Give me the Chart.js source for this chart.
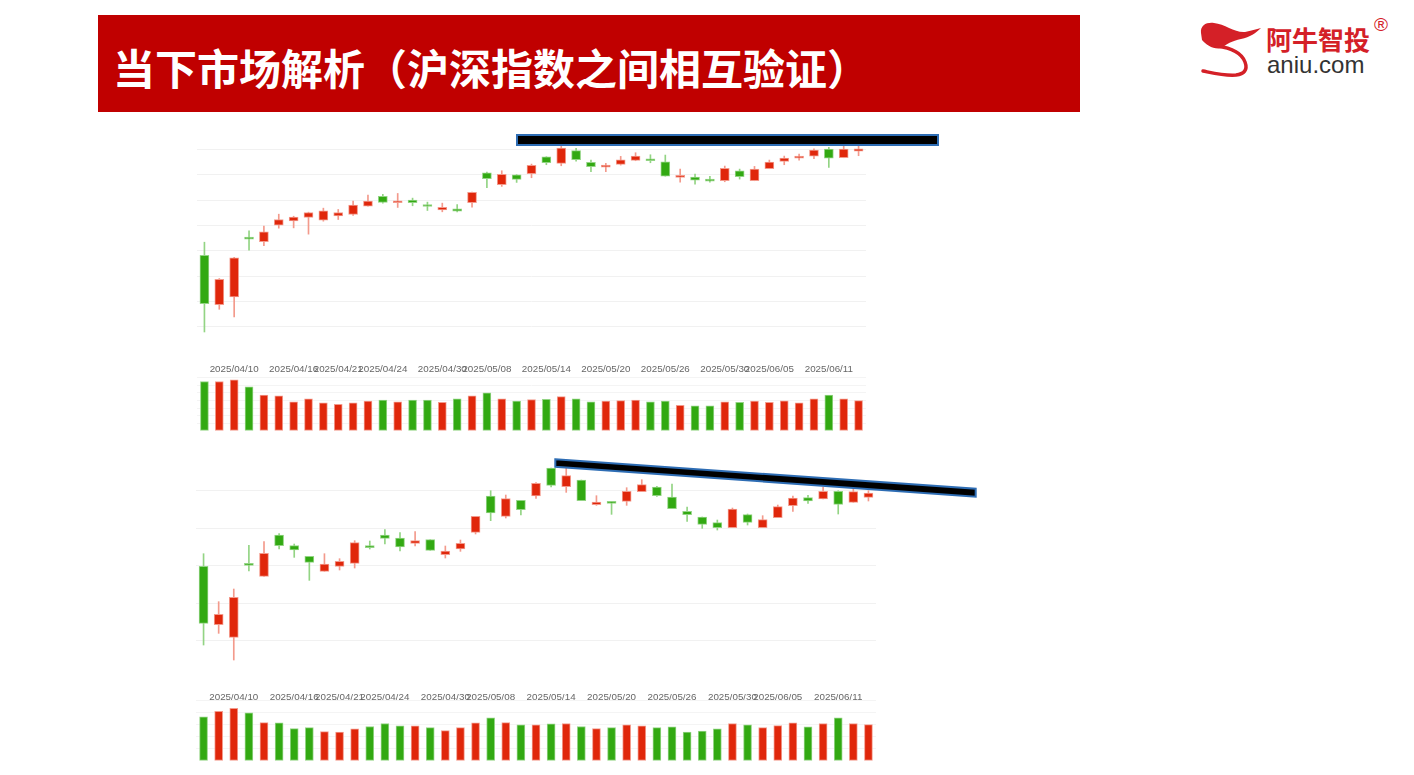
<!DOCTYPE html>
<html><head><meta charset="utf-8">
<script src="https://cdn.jsdelivr.net/npm/chart.js@4.4.1/dist/chart.umd.min.js"></script>
<style>
html,body{margin:0;padding:0;background:#fff;}
#page{position:relative;width:1414px;height:775px;overflow:hidden;background:#fff;}
.abs{position:absolute;}
#banner{left:98px;top:15px;width:982px;height:97px;background:#c00000;}
#title{left:113px;top:38px;color:#fff;font-family:"Noto Sans CJK SC";font-weight:700;font-size:42px;line-height:58px;white-space:nowrap;}
#logoCn{left:1266px;top:22px;color:#d42027;font-family:"Noto Sans CJK SC";font-weight:700;font-size:26px;line-height:34px;white-space:nowrap;}
#logoEn{left:1267px;top:50px;color:#333;font-family:"Liberation Sans";font-size:24px;line-height:30px;white-space:nowrap;}
#logoR{left:1374px;top:14px;color:#d42027;font-family:"Liberation Sans";font-size:19px;line-height:22px;}
canvas{position:absolute;}
svg{position:absolute;left:0;top:0;}
</style></head>
<body><div id="page">
<div id="banner" class="abs"></div>
<div id="title" class="abs">当下市场解析（沪深指数之间相互验证）</div>
<div id="logoCn" class="abs">阿牛智投</div>
<div id="logoEn" class="abs">aniu.com</div>
<div id="logoR" class="abs">®</div>
<canvas id="shK" width="669" height="228" style="left:197px;top:124px;"></canvas>
<canvas id="shV" width="669" height="71" style="left:197px;top:360px;"></canvas>
<canvas id="szK" width="680" height="225" style="left:196px;top:453px;"></canvas>
<canvas id="szV" width="680" height="67" style="left:196px;top:694px;"></canvas>
<svg width="1414" height="775">
  <path d="M1201,33 C1200,25 1207,22 1214,23 C1225,24 1235,33 1245,32 C1251,31 1256,29 1261,28 C1256,33 1250,37 1241,39 C1232,41 1226,44 1222,48 C1214,50 1206,45 1202,40 Z" fill="#d42027"/>
  <path d="M1217,46 C1232,48 1242,54 1245,62 C1248,70 1244,74 1236,75 C1225,76 1213,73 1203,71" fill="none" stroke="#d42027" stroke-width="3.5" stroke-linecap="round"/>
  <rect x="517" y="135" width="421" height="10" fill="#000" stroke="#2e6db4" stroke-width="2"/>
  <polygon points="555.3,459.3 975.7,488.7 975.7,496.7 555.3,466.7" fill="#000" stroke="#2e6db4" stroke-width="2"/>
</svg>
</div>
<script>
const dates = ['2025/04/07','2025/04/08','2025/04/09','2025/04/10','2025/04/11','2025/04/14','2025/04/15','2025/04/16','2025/04/17','2025/04/18','2025/04/21','2025/04/22','2025/04/23','2025/04/24','2025/04/25','2025/04/28','2025/04/29','2025/04/30','2025/05/06','2025/05/07','2025/05/08','2025/05/09','2025/05/12','2025/05/13','2025/05/14','2025/05/15','2025/05/16','2025/05/19','2025/05/20','2025/05/21','2025/05/22','2025/05/23','2025/05/26','2025/05/27','2025/05/28','2025/05/29','2025/05/30','2025/06/03','2025/06/04','2025/06/05','2025/06/06','2025/06/09','2025/06/10','2025/06/11','2025/06/12'];
const tickLabels = ['2025/04/10','2025/04/16','2025/04/21','2025/04/24','2025/04/30','2025/05/08','2025/05/14','2025/05/20','2025/05/26','2025/05/30','2025/06/05','2025/06/11'];

// 上证指数 (top)
const shOpen  = [3191.0,3093.6,3108.7,3226.0,3218.0,3250.3,3258.9,3265.5,3260.2,3268.8,3271.4,3287.9,3307.0,3294.5,3299.8,3289.9,3280.6,3282.6,3294.5,3353.8,3330.1,3349.8,3351.8,3385.4,3372.2,3397.3,3374.2,3365.0,3370.2,3378.1,3380.8,3375.5,3344.6,3345.2,3341.3,3338.0,3357.7,3338.0,3361.7,3376.2,3382.8,3386.7,3400.5,3383.4,3396.6];
const shHigh  = [3216.7,3145.0,3187.0,3239.0,3248.4,3272.0,3268.0,3276.0,3283.9,3281.3,3297.8,3309.6,3311.0,3312.9,3303.7,3295.8,3293.8,3291.0,3315.5,3355.1,3357.7,3350.0,3370.9,3385.4,3406.5,3401.9,3378.8,3372.2,3386.1,3393.3,3389.3,3388.7,3361.0,3351.1,3346.5,3367.0,3361.0,3366.3,3378.8,3386.7,3390.7,3401.2,3403.8,3407.1,3407.1];
const shLow   = [3039.5,3084.3,3069.2,3200.9,3210.0,3244.4,3245.0,3232.6,3258.2,3261.5,3269.4,3287.9,3293.8,3285.3,3288.6,3279.3,3276.7,3276.7,3285.9,3324.1,3326.8,3334.7,3343.9,3369.6,3367.6,3376.8,3355.7,3355.7,3368.9,3377.5,3373.5,3347.0,3335.3,3331.4,3335.3,3336.0,3341.3,3338.0,3361.7,3369.6,3378.8,3381.4,3364.3,3383.4,3387.4];
const shClose = [3095.5,3143.6,3185.8,3222.7,3237.2,3261.5,3266.2,3275.4,3278.7,3275.4,3289.9,3297.8,3295.1,3297.1,3294.5,3287.2,3285.3,3278.0,3314.9,3341.9,3350.5,3340.6,3368.3,3373.5,3402.5,3379.5,3365.6,3366.9,3379.5,3386.7,3377.5,3347.2,3346.5,3339.3,3337.3,3362.3,3345.9,3361.0,3374.9,3382.8,3384.7,3398.6,3382.8,3400.5,3401.2];
const shVolume = [651,651,673,581,471,462,383,422,370,352,370,392,405,383,405,405,378,422,462,502,422,392,414,418,453,422,383,392,400,405,383,392,339,330,330,383,378,392,378,396,370,422,471,422,400];

// 深证成指 (bottom)
const szOpen  = [9744.3,9355.5,9271.0,9755.4,9677.7,9953.2,9882.1,9811.0,9711.0,9744.3,9764.3,9882.1,9953.2,9933.2,9897.7,9922.1,9822.1,9859.9,9971.0,10213.2,10077.7,10184.3,10213.2,10399.8,10275.4,10319.8,10155.4,10168.7,10177.7,10242.1,10273.2,10206.5,10111.0,10073.2,10035.4,10002.1,10088.7,10002.1,10068.7,10148.7,10202.1,10193.2,10244.3,10171.0,10204.3];
const szHigh  = [9828.7,9508.8,9593.2,9884.3,9908.7,9962.0,9893.2,9811.0,9828.7,9795.4,9915.4,9913.2,9988.7,9968.7,9975.4,9922.1,9880.0,9919.9,10078.0,10248.7,10219.9,10184.3,10302.0,10400.0,10399.8,10319.8,10215.4,10177.6,10268.7,10322.0,10277.6,10293.2,10139.9,10073.2,10053.2,10133.2,10093.2,10082.1,10153.2,10213.2,10217.6,10270.9,10248.7,10266.5,10248.7];
const szLow   = [9219.9,9297.7,9119.9,9713.2,9677.7,9859.9,9804.3,9651.0,9711.0,9719.9,9733.2,9859.9,9893.2,9846.5,9879.9,9851.0,9799.9,9844.3,9959.9,10048.7,10066.6,10086.5,10197.6,10273.2,10237.6,10182.1,10151.0,10091.0,10151.0,10242.1,10211.0,10128.7,10044.3,9997.6,9986.5,10002.1,10019.9,10002.1,10068.7,10111.0,10164.3,10193.2,10093.2,10171.0,10179.9];
const szClose = [9364.4,9424.4,9537.7,9751.0,9831.0,9882.1,9853.2,9771.0,9759.9,9777.7,9902.1,9868.7,9931.0,9873.2,9915.4,9851.0,9846.5,9897.7,10077.7,10099.9,10195.4,10122.1,10297.6,10284.3,10348.7,10182.1,10173.2,10164.3,10244.3,10288.7,10215.4,10128.7,10088.7,10024.3,10002.1,10126.5,10037.7,10055.4,10142.1,10199.8,10180.0,10244.3,10157.7,10242.1,10233.2];
const szVolume = [367,412,437,400,319,316,269,277,244,241,266,286,311,291,291,277,252,277,316,358,319,300,300,308,311,286,269,277,300,291,277,283,241,249,266,311,300,277,294,316,283,311,358,311,302];

const RED = '#e0270b', GREEN = '#32a912', RED_L = '#f39a8c', GREEN_L = '#93d484';
const FONT = 'Liberation Sans';

function kChart(id, o, h, l, c, yMin, yMax, step, gridVals) {
  const up = o.map((v, i) => c[i] >= v);
  new Chart(document.getElementById(id), {
    type: 'bar',
    data: { labels: dates, datasets: [
      { data: l.map((v, i) => [v, h[i]]), backgroundColor: up.map(u => u ? RED_L : GREEN_L), barThickness: 1, grouped: false, order: 2 },
      { data: o.map((v, i) => [v, c[i]]), backgroundColor: up.map(u => u ? RED : GREEN), borderColor: up.map(u => u ? RED_L : GREEN_L), borderWidth: 1, borderSkipped: false, barThickness: 9, minBarLength: 2, grouped: false, order: 1 }
    ]},
    options: {
      responsive: false, animation: false, devicePixelRatio: 1, layout: { padding: 0 },
      plugins: { legend: { display: false }, tooltip: { enabled: false } },
      scales: {
        x: { display: false },
        y: { min: yMin, max: yMax, ticks: { display: false, stepSize: step }, border: { display: false },
             grid: { drawTicks: false, color: ctx => (ctx.tick && gridVals.includes(ctx.tick.value)) ? '#f1f1f1' : 'rgba(0,0,0,0)' } }
      }
    }
  });
}

function volChart(id, vol, o, c, yMax, pad) {
  const up = o.map((v, i) => c[i] >= v);
  new Chart(document.getElementById(id), {
    type: 'bar',
    data: { labels: dates, datasets: [
      { data: vol, backgroundColor: up.map(u => u ? RED : GREEN), borderColor: up.map(u => u ? RED_L : GREEN_L), borderWidth: 1, borderSkipped: false, barThickness: 8 }
    ]},
    options: {
      responsive: false, animation: false, devicePixelRatio: 1, layout: { padding: 0 },
      plugins: { legend: { display: false }, tooltip: { enabled: false } },
      scales: {
        x: { position: 'top', grid: { display: false, drawTicks: false }, border: { display: false },
             ticks: { autoSkip: false, maxRotation: 0, minRotation: 0, padding: pad, color: '#666', font: { family: FONT, size: 9.8 },
                      callback: (v, i) => { const d = dates[i + 1]; return tickLabels.includes(d) ? d : ''; } } },
        y: { min: 0, max: yMax, ticks: { display: false, stepSize: 100 }, border: { display: false },
             grid: { drawTicks: false, color: ctx => (ctx.tick && ctx.tick.value === 0) ? '#dde3ee' : '#f4f4f4' } }
      }
    }
  });
}

kChart('shK', shOpen, shHigh, shLow, shClose, 3000, 3450, 50, [3050,3100,3150,3200,3250,3300,3350,3400]);
volChart('shV', shVolume, shOpen, shClose, 700, 3);
kChart('szK', szOpen, szHigh, szLow, szClose, 9000, 10500, 250, [9250,9500,9750,10000,10250]);
volChart('szV', szVolume, szOpen, szClose, 500, -2.5);
</script>
</body></html>
